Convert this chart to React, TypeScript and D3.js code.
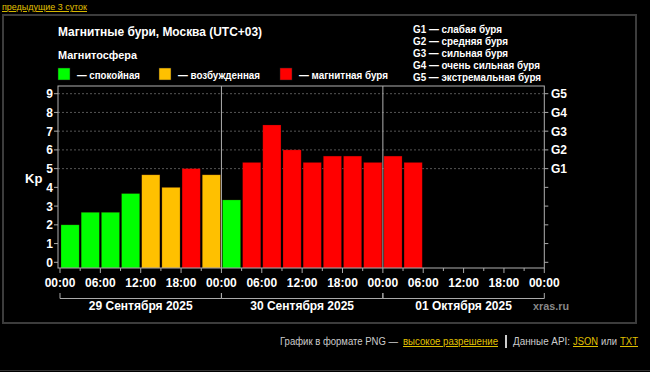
import React from "react";
import * as d3 from "d3";

const kpValues = [
  2.0, 2.67, 2.67, 3.67, 4.67, 4.0, 5.0, 4.67,
  3.33, 5.33, 7.33, 6.0, 5.33, 5.67, 5.67, 5.33,
  5.67, 5.33,
];
const dayLabels = ["29 Сентября 2025", "30 Сентября 2025", "01 Октября 2025"];
const timeLabels = ["00:00", "06:00", "12:00", "18:00"];
const kpTicks = [0, 1, 2, 3, 4, 5, 6, 7, 8, 9];
const gLevels = ["G1", "G2", "G3", "G4", "G5"];
const gLegend = [
  "G1 — слабая буря",
  "G2 — средняя буря",
  "G3 — сильная буря",
  "G4 — очень сильная буря",
  "G5 — экстремальная буря",
];
const gLegendWidths = [89, 95, 95, 127, 128];
const stateLegend = [
  { label: "— спокойная", color: "#00ff00" },
  { label: "— возбужденная", color: "#ffc000" },
  { label: "— магнитная буря", color: "#ff0000" },
];
const stateLegendWidths = [63, 82, 89];

const FONT = "'Liberation Sans', Arial, sans-serif";
const LINK = "#e0c000";

function colorFor(v: number) {
  if (v < 4) return "#00ff00";
  if (v < 5) return "#ffc000";
  return "#ff0000";
}

export default function App() {
  const W = 650, H = 372;
  const x = d3.scaleLinear().domain([0, 72]).range([60, 544.3]);
  const y = d3.scaleLinear().domain([0, 9]).range([262.3, 93.7]);
  const plotTop = 86, plotBottom = 268, plotLeft = 58, plotRight = 544.3;
  const legendX = [58, 159, 280];
  const fit = { lengthAdjust: "spacingAndGlyphs" as const };

  return (
    <svg
      width={W}
      height={H}
      style={{ position: "absolute", left: 0, top: 0, background: "#000" }}
      fontFamily={FONT}
    >
      <rect x={0} y={0} width={W} height={H} fill="#000" />
      {/* top link */}
      <text x={2} y={10} fontSize={9.5} fill={LINK} textDecoration="underline" textLength={85} {...fit}>
        предыдущие 3 суток
      </text>
      {/* frame */}
      <rect x={3} y={15} width={633} height={308} fill="none" stroke="#3c3c3c" strokeWidth={2} />

      {/* titles */}
      <text x={58} y={36} fontSize={12.5} fontWeight="bold" fill="#fff" textLength={204} {...fit}>
        Магнитные бури, Москва (UTC+03)
      </text>
      <text x={58} y={59} fontSize={11.5} fontWeight="bold" fill="#fff" textLength={79} {...fit}>
        Магнитосфера
      </text>
      {stateLegend.map((d, i) => (
        <g key={d.label}>
          <rect x={legendX[i]} y={68} width={12} height={12} fill={d.color} stroke="#222" strokeWidth={0.5} />
          <text
            x={legendX[i] + 19}
            y={79}
            fontSize={10.5}
            fontWeight="bold"
            fill="#fff"
            textLength={stateLegendWidths[i]}
            {...fit}
          >
            {d.label}
          </text>
        </g>
      ))}
      {gLegend.map((t, i) => (
        <text
          key={t}
          x={413}
          y={33 + i * 12}
          fontSize={10.5}
          fontWeight="bold"
          fill="#fff"
          textLength={gLegendWidths[i]}
          {...fit}
        >
          {t}
        </text>
      ))}

      {/* gridlines */}
      {[5, 6, 7, 8, 9].map((v) => (
        <line
          key={v}
          x1={plotLeft}
          x2={plotRight}
          y1={y(v)}
          y2={y(v)}
          stroke="#555"
          strokeDasharray="2,2"
        />
      ))}

      {/* bars */}
      {kpValues.map((v, i) => (
        <rect
          key={i}
          x={x(i * 3) + 1}
          y={y(v)}
          width={x(3) - x(0) - 2}
          height={plotBottom - y(v)}
          fill={colorFor(v)}
          stroke="#3a0000"
          strokeOpacity={0.4}
          strokeWidth={0.6}
        />
      ))}

      {/* plot box */}
      <rect
        x={plotLeft}
        y={plotTop}
        width={plotRight - plotLeft}
        height={plotBottom - plotTop}
        fill="none"
        stroke="#b0b0b0"
        strokeWidth={1}
      />
      {[24, 48].map((h) => (
        <line key={h} x1={x(h)} x2={x(h)} y1={plotTop} y2={plotBottom} stroke="#b0b0b0" strokeWidth={1} />
      ))}

      {/* y axes */}
      {kpTicks.map((v) => (
        <g key={v}>
          <line x1={54} x2={plotLeft} y1={y(v)} y2={y(v)} stroke="#aaa" />
          <line x1={plotRight} x2={plotRight + 4} y1={y(v)} y2={y(v)} stroke="#aaa" />
          <text x={53} y={y(v) + 4.5} fontSize={12} fontWeight="bold" fill="#fff" textAnchor="end">
            {v}
          </text>
        </g>
      ))}
      <text x={25} y={183} fontSize={13} fontWeight="bold" fill="#fff">
        Kp
      </text>
      {gLevels.map((g, i) => (
        <text key={g} x={551} y={y(5 + i) + 4.5} fontSize={12} fontWeight="bold" fill="#fff">
          {g}
        </text>
      ))}

      {/* x axis */}
      {d3.range(0, 73, 3).map((h) => (
        <line
          key={h}
          x1={x(h)}
          x2={x(h)}
          y1={plotBottom}
          y2={plotBottom + (h % 6 === 0 ? 5 : 3)}
          stroke="#aaa"
        />
      ))}
      {d3.range(0, 73, 6).map((h) => (
        <text
          key={h}
          x={x(h)}
          y={287}
          fontSize={12}
          fontWeight="bold"
          fill="#fff"
          textAnchor="middle"
        >
          {timeLabels[(h / 6) % 4]}
        </text>
      ))}
      {/* date brackets */}
      {dayLabels.map((d, i) => (
        <g key={d}>
          <path
            d={`M${x(i * 24)},293 V298.5 H${x(i * 24 + 24)} V293`}
            fill="none"
            stroke="#aaa"
          />
          <text
            x={x(i * 24 + 12)}
            y={310}
            fontSize={12}
            fontWeight="bold"
            fill="#fff"
            textAnchor="middle"
          >
            {d}
          </text>
        </g>
      ))}
      <text x={533} y={310} fontSize={11} fontWeight="bold" fill="#888" textLength={36} {...fit}>
        xras.ru
      </text>

      {/* footer */}
      <g fontSize={10}>
        <text x={280} y={345} fill="#ccc" textLength={118} {...fit}>
          График в формате PNG —
        </text>
        <text x={403} y={345} fill={LINK} textDecoration="underline" textLength={95} {...fit}>
          высокое разрешение
        </text>
        <rect x={505} y={335} width={2} height={13} fill="#ccc" />
        <text x={513} y={345} fill="#ccc" textLength={57} {...fit}>
          Данные API:
        </text>
        <text x={573} y={345} fill={LINK} textDecoration="underline" textLength={25} {...fit}>
          JSON
        </text>
        <text x={601} y={345} fill="#ccc" textLength={16} {...fit}>
          или
        </text>
        <text x={620} y={345} fill={LINK} textDecoration="underline" textLength={18} {...fit}>
          TXT
        </text>
      </g>
      <line x1={0} x2={W} y1={370.5} y2={370.5} stroke="#333" />
    </svg>
  );
}
